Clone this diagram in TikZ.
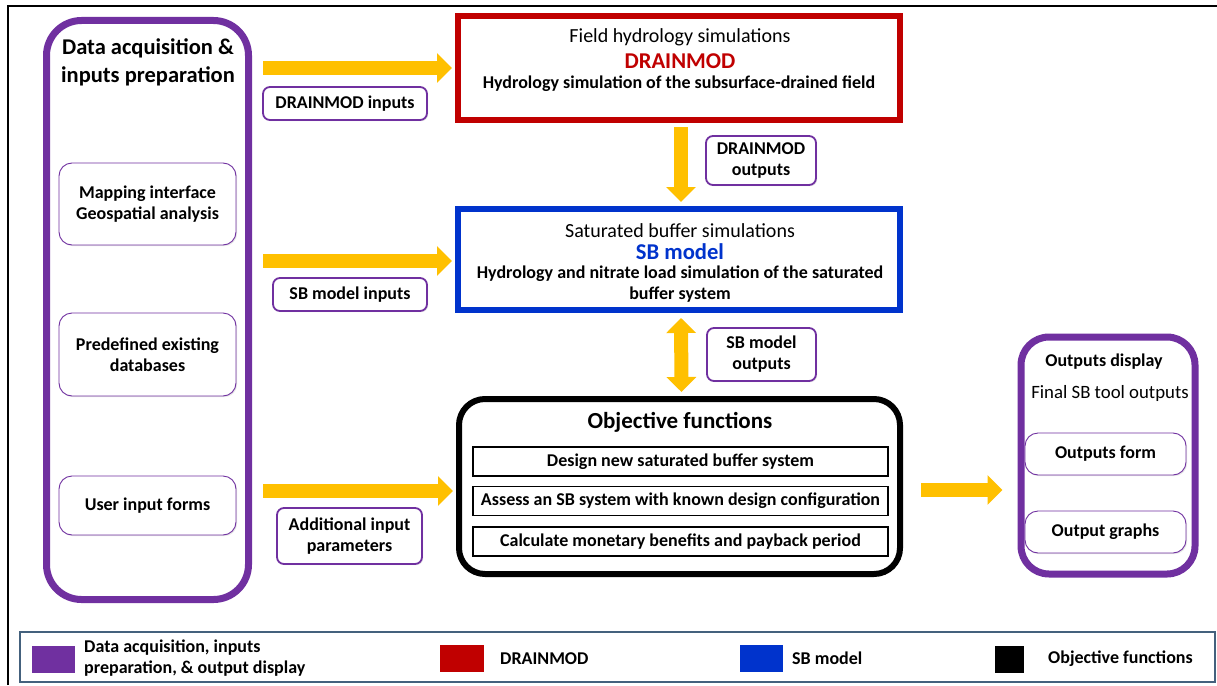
\documentclass[tikz,border=0pt]{standalone}
\usepackage{fontspec}
\setmainfont{Carlito}
\usetikzlibrary{arrows.meta,calc,shadows}
\definecolor{purp}{HTML}{7030A0}
\definecolor{dred}{HTML}{C00000}
\definecolor{dblue}{HTML}{0033CC}
\definecolor{gold}{HTML}{FFC000}
\definecolor{legb}{HTML}{44617D}
\begin{document}
\begin{tikzpicture}[x=1pt,y=-1pt,
  fb/.style={font=\bfseries\fontsize{18}{21}\selectfont},
  fr/.style={font=\fontsize{18}{21}\selectfont},
  bigpurple/.style={draw=purp, line width=7pt, rounded corners=#1, inner sep=0pt, fill=white},
  modelbox/.style={draw=#1, line width=6pt, inner sep=0pt, fill=white},
  subbox/.style={draw=purp, line width=0.9pt, rounded corners=13pt, inner sep=0pt, fill=white, fb, align=center,
    drop shadow={opacity=0.18, shadow xshift=1.2pt, shadow yshift=-1.2pt}},
  labbox/.style={draw=purp, line width=1.8pt, rounded corners=7pt, inner sep=0pt, fill=white, fb, align=center,
    drop shadow={opacity=0.18, shadow xshift=1.2pt, shadow yshift=-1.2pt}},
  taskbox/.style={draw=black, line width=1.2pt, inner sep=0pt, fill=white, fb, minimum width=415pt, minimum height=29pt},
  flow/.style={draw=gold, line width=14pt, -{Triangle[length=15pt,width=29pt]}},
  dflow/.style={draw=gold, line width=14pt, {Triangle[length=15pt,width=29pt]}-{Triangle[length=15pt,width=29pt]}},
  swatch/.style={fill=#1, inner sep=0pt, minimum height=27pt},
  txt/.style={inner sep=0pt}
]
\useasboundingbox (0,0) rectangle (1217,685);
\fill[white] (0,0) rectangle (1217,685);
% outer frame
\draw[line width=2.2pt] (8,685) -- (8,6) -- (1217,6);

% left purple box
\node[bigpurple=35pt, minimum width=202pt, minimum height=579pt] (left) at (147.5,310) {};
\node[txt, font=\bfseries\fontsize{22.5}{28}\selectfont, align=center] (lefttitle) at (148,62) {Data acquisition \&\\inputs preparation};
\node[subbox, minimum width=177pt, minimum height=82pt] (map) at (147.5,204) {Mapping interface\\Geospatial analysis};
\node[subbox, minimum width=177pt, minimum height=83pt] (pre) at (147.5,354.5) {Predefined existing\\databases};
\node[subbox, minimum width=177pt, minimum height=59pt] (user) at (147.5,505.5) {User input forms};

% DRAINMOD box
\node[modelbox=dred, minimum width=442pt, minimum height=104pt] (drain) at (679,68) {};
\node[txt, fr, font=\fontsize{20}{24}\selectfont] (draint) at (680,37) {Field hydrology simulations};
\node[txt, text=dred, font=\bfseries\fontsize{22.6}{26}\selectfont] (drainn) at (680,61) {DRAINMOD};
\node[txt, fb] (draind) at (679,84) {Hydrology simulation of the subsurface-drained field};

% SB model box
\node[modelbox=dblue, minimum width=442pt, minimum height=101pt] (sb) at (679,259.5) {};
\node[txt, font=\fontsize{20}{24}\selectfont] (sbt) at (680,231) {Saturated buffer simulations};
\node[txt, text=dblue, font=\bfseries\fontsize{22.6}{26}\selectfont] (sbn) at (680,252) {SB model};
\node[txt, fb, align=center] (sbd) at (680,284) {Hydrology and nitrate load simulation of the saturated\\buffer system};

% Objective functions box
\node[draw=black, line width=6pt, rounded corners=26pt, inner sep=0pt, fill=white, minimum width=441pt, minimum height=175pt] (obj) at (679.5,486.5) {};
\node[txt, font=\bfseries\fontsize{23}{26}\selectfont] (objt) at (680,422) {Objective functions};
\node[taskbox] (t1) at (680.5,461.5) {Design new saturated buffer system};
\node[taskbox] (t2) at (680.5,501) {Assess an SB system with known design configuration};
\node[taskbox] (t3) at (680.5,541.5) {Calculate monetary benefits and payback period};

% Outputs display box
\node[bigpurple=28pt, minimum width=174pt, minimum height=237pt] (out) at (1108,455.5) {};
\node[txt, fb] (outt) at (1104,362) {Outputs display};
\node[txt, font=\fontsize{18.8}{22}\selectfont] (outs) at (1110,393) {Final SB tool outputs};
\node[subbox, minimum width=161pt, minimum height=42pt] (oform) at (1105.5,454) {Outputs form};
\node[subbox, minimum width=161pt, minimum height=42pt] (ograph) at (1105.5,532) {Output graphs};

% arrow labels
\node[labbox, minimum width=164pt, minimum height=33pt] (l1) at (345,103.5) {DRAINMOD inputs};
\node[labbox, minimum width=154pt, minimum height=33pt] (l2) at (350,294.5) {SB model inputs};
\node[labbox, minimum width=145pt, minimum height=56pt] (l3) at (349.5,536) {Additional input\\parameters};
\node[labbox, minimum width=110pt, minimum height=49pt] (l4) at (761,160.5) {DRAINMOD\\outputs};
\node[labbox, minimum width=109pt, minimum height=53pt] (l5) at (761.5,354.5) {SB model\\outputs};

% connectors
\draw[flow, shorten <=11pt, shorten >=3pt] (left.east |- drain.west) -- (drain.west);
\draw[flow, shorten <=11pt, shorten >=3pt] ($(left.east |- sb.west)+(0,1.5)$) -- ($(sb.west)+(0,1.5)$);
\draw[flow, shorten <=11pt, shorten >=3pt] ($(left.east |- obj.west)+(0,4.5)$) -- ($(obj.west)+(0,4.5)$);
\draw[flow, shorten <=18pt, shorten >=15pt] ($(obj.east)+(0,3.5)$) -- ($(out.west |- obj.east)+(0,3.5)$);
\draw[flow, shorten <=4pt, shorten >=4pt] ($(drain.south)+(2,0)$) -- ($(sb.north)+(2,0)$);
\draw[dflow, shorten <=5pt, shorten >=4pt] ($(sb.south)+(2,0)$) -- ($(obj.north)+(2,0)$);

% legend
\node[draw=legb, line width=2pt, inner sep=0pt, minimum width=1195pt, minimum height=50pt] (leg) at (617.5,657) {};
\node[swatch=purp, minimum width=43pt] (sw1) at (53.5,659.5) {};
\node[txt, fb, align=left, anchor=west] (lt1) at (84,658) {Data acquisition, inputs\\preparation, \& output display};
\node[swatch=dred, minimum width=44pt] (sw2) at (462,658.5) {};
\node[txt, fb, anchor=west] (lt2) at (500,658.5) {DRAINMOD};
\node[swatch=dblue, minimum width=43pt] (sw3) at (761.5,658.5) {};
\node[txt, fb, anchor=west] (lt3) at (792,658.5) {SB model};
\node[swatch=black, minimum width=29pt] (sw4) at (1009.5,659.5) {};
\node[txt, fb, anchor=west] (lt4) at (1048,658.5) {Objective functions};
\end{tikzpicture}
\end{document}
